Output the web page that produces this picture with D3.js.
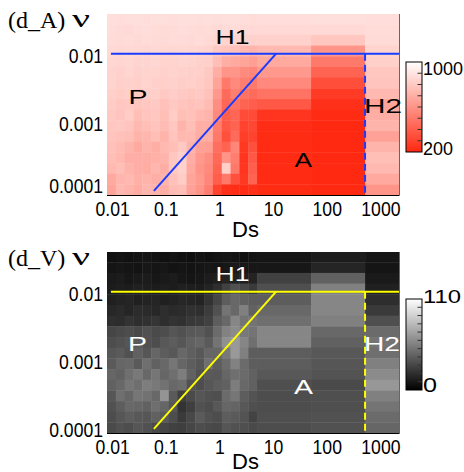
<!DOCTYPE html>
<html><head><meta charset="utf-8">
<script src="https://cdn.jsdelivr.net/npm/d3@7"></script>
<style>body{margin:0;background:#fff}</style>
</head><body><svg id="c" width="464" height="472"></svg>
<script>
// ---- data ----
const dsEdges = [0.00802, 0.01172, 0.0171, 0.0250, 0.0365, 0.0533, 0.0778, 0.1138, 0.166, 0.2427, 0.354, 0.5176, 0.755, 1.104, 1.611, 2.355, 3.436, 5.02, 51, 518, 2223];
const nuEdges = [8.44e-5, 1.21e-4, 1.73e-4, 2.48e-4, 3.56e-4, 5.1e-4, 7.32e-4, 1.05e-3, 1.507e-3, 2.16e-3, 3.1e-3, 4.45e-3, 6.38e-3, 9.16e-3, 1.314e-2, 1.885e-2, 2.7e-2, 3.82e-2];
const xTicks = [0.01, 0.1, 1, 10, 100, 1000];
const xTickLabels = ["0.01", "0.1", "1", "10", "100", "1000"];
const yTicks = [0.0001, 0.001, 0.01];
const yTickLabels = ["0.0001", "0.001", "0.01"];
const regionNames = ["H1", "P", "H2", "A"];
const cbTicksA = [200, 300, 400, 500, 600, 700, 800, 900, 1000];
const cbTicksV = [0, 10, 20, 30, 40, 50, 60, 70, 80, 90, 100, 110];
// rows listed from highest nu (top) to lowest nu (bottom), 20 Ds columns each
const dA = [
 [880,875,880,880,875,880,880,875,880,880,875,880,875,880,880,875,870,875,880,875],
 [875,865,860,870,875,870,865,870,875,870,865,870,860,865,870,860,860,860,860,870],
 [870,865,870,860,870,865,860,870,865,860,870,860,850,840,845,835,830,830,790,865],
 [860,855,860,855,850,860,855,850,855,850,845,840,800,780,770,740,720,740,600,840],
 [850,845,850,840,845,850,840,835,845,840,830,820,760,700,680,660,640,680,500,820],
 [840,830,845,830,840,835,830,840,830,825,820,800,700,600,600,570,550,620,420,790],
 [835,825,830,820,835,825,820,830,815,820,810,790,660,500,560,520,500,560,340,780],
 [820,810,825,800,815,820,800,815,800,790,800,770,620,450,520,470,450,480,270,740],
 [810,790,800,780,790,800,770,800,780,770,780,750,580,430,470,420,400,380,230,660],
 [800,780,810,760,780,790,760,810,760,770,740,720,560,400,430,330,330,250,210,700],
 [790,800,780,740,760,780,750,790,720,760,700,700,520,380,420,300,320,220,205,720],
 [780,770,760,720,730,760,720,780,740,740,690,690,500,350,450,280,300,215,205,650],
 [770,750,720,680,720,700,740,760,800,720,650,640,460,420,550,260,350,210,200,720],
 [760,740,700,700,700,710,720,790,820,700,620,580,440,600,520,250,380,210,200,760],
 [740,760,720,700,690,730,700,800,830,680,600,560,420,820,500,250,400,210,200,740],
 [680,730,740,710,720,700,720,770,810,660,620,550,400,500,350,260,420,210,200,680],
 [660,740,720,690,730,720,700,750,760,650,600,520,300,230,220,220,230,215,205,600]
];
const dV = [
 [7,8,7,8,9,8,7,8,7,6,8,7,8,9,8,7,8,9,12,9],
 [9,10,9,8,10,9,10,8,9,8,9,10,9,10,11,10,10,10,16,9],
 [11,12,10,11,12,10,11,12,10,9,10,12,13,15,14,13,15,28,42,11],
 [12,13,12,14,13,12,13,12,14,13,12,15,20,28,35,30,25,34,55,14],
 [14,15,16,14,15,16,14,15,17,16,15,22,30,40,45,42,40,40,58,20],
 [17,18,16,19,18,17,20,18,19,21,20,26,35,50,45,55,42,45,58,25],
 [20,19,22,20,21,23,20,22,21,24,25,28,40,45,58,50,50,48,55,34],
 [30,32,33,31,35,32,33,37,35,38,39,35,46,56,60,52,50,58,45,46],
 [33,35,37,39,35,33,38,40,37,42,44,39,50,62,66,58,48,58,42,50],
 [37,39,35,42,37,44,40,38,45,41,38,44,44,52,66,55,40,40,38,48],
 [39,44,45,39,48,42,45,51,44,40,37,48,40,46,56,46,40,40,37,55],
 [44,42,48,52,45,51,44,48,54,42,35,39,38,44,48,46,42,38,36,60],
 [42,45,51,48,54,52,49,45,47,35,33,37,40,42,54,45,42,34,32,65],
 [37,48,44,51,49,45,64,39,27,32,37,35,34,46,51,40,36,33,34,55],
 [35,40,45,44,42,48,44,37,22,27,35,33,38,44,43,38,34,33,34,50],
 [33,37,40,38,37,42,39,33,25,31,39,35,33,40,39,36,29,34,35,46],
 [32,35,33,37,35,32,30,28,27,30,33,32,31,37,35,34,32,33,35,44]
];
const lineH1 = [[0.0095, 0.01], [2223, 0.01]];
const lineDiag = [[0.060, 9.7e-5], [11.4, 0.01]];
const lineH2 = [[518, 0.01], [518, 8.44e-5]];

// ---- drawing ----
const svg = d3.select("#c");
svg.append("rect").attr("width", 464).attr("height", 472).attr("fill", "#fff");
const SANS = "'Liberation Sans', Arial, Helvetica, sans-serif";
const SERIF = "'Liberation Serif', 'Times New Roman', serif";
const PW = 181;
const x = d3.scaleLog().domain([dsEdges[0], dsEdges[dsEdges.length - 1]]).range([107, 399]);

function squeeze(sel, f) {
  sel.each(function () {
    const w = this.getComputedTextLength();
    d3.select(this).attr("textLength", w * f).attr("lengthAdjust", "spacingAndGlyphs");
  });
}

const panels = [
  { title: "(d_A)", data: dA, top: 14, titleBase: 28,
    color: d3.scaleLinear().domain([200, 1000]).range(["#ff2810", "#ffffff"]),
    lineColor: "#1a3cff", textColor: "#000", lowLabelShift: -6,
    cb: { y0: 62, y1: 152, domain: [200, 1000], ticks: cbTicksA,
          labels: [{t: "1000", y: 75, size: 18, len: 40}, {t: "200", y: 155, size: 18, len: 30}] },
    regions: [{x: 215.5, y: 44, len: 34}, {x: 128.5, y: 103.5, len: 19}, {x: 364, y: 113, len: 38}, {x: 294.5, y: 167, len: 17.5}],
    xlabBase: 215.5, dsBase: 236.5 },
  { title: "(d_V)", data: dV, top: 252, titleBase: 266,
    color: d3.scaleLinear().domain([0, 110]).range(["#000000", "#ffffff"]),
    lineColor: "#ffff00", textColor: "#fff", lowLabelShift: 0,
    cb: { y0: 299, y1: 390, domain: [0, 110], ticks: cbTicksV,
          labels: [{t: "110", y: 303, size: 19, len: 38}, {t: "0", y: 392, size: 20, len: 14}] },
    regions: [{x: 215.5, y: 280.5, len: 34}, {x: 128, y: 351, len: 19}, {x: 364, y: 351, len: 36}, {x: 294, y: 394, len: 19}],
    xlabBase: 453.5, dsBase: 468.5 }
];

panels.forEach(p => {
  const y = d3.scaleLog().domain([nuEdges[0], nuEdges[nuEdges.length - 1]]).range([p.top + PW, p.top]);
  const g = svg.append("g");
  const R = nuEdges.length - 1;
  const cells = [];
  p.data.forEach((row, i) => row.forEach((v, j) => cells.push({i, j, v})));
  g.selectAll("rect.cell").data(cells).join("rect")
    .attr("class", "cell")
    .attr("x", d => x(dsEdges[d.j]))
    .attr("width", d => x(dsEdges[d.j + 1]) - x(dsEdges[d.j]) + 0.4)
    .attr("y", d => y(nuEdges[R - d.i]))
    .attr("height", d => y(nuEdges[R - 1 - d.i]) - y(nuEdges[R - d.i]) + 0.4)
    .attr("fill", d => p.color(d.v));

  // frame: bottom axis line and right edge
  g.append("line").attr("x1", 107).attr("x2", 399.5).attr("y1", p.top + PW + 0.5).attr("y2", p.top + PW + 0.5)
    .attr("stroke", "#000").attr("stroke-width", 1);
  g.append("line").attr("x1", 399.5).attr("x2", 399.5).attr("y1", p.top).attr("y2", p.top + PW)
    .attr("stroke", "#666").attr("stroke-width", 1);

  // boundary lines
  const ln = d3.line().x(d => x(d[0])).y(d => y(d[1]));
  g.append("path").attr("d", ln(lineH1)).attr("stroke", p.lineColor).attr("stroke-width", 2).attr("fill", "none");
  g.append("path").attr("d", ln(lineDiag)).attr("stroke", p.lineColor).attr("stroke-width", 2).attr("fill", "none");
  g.append("path").attr("d", ln(lineH2)).attr("stroke", p.lineColor).attr("stroke-width", 2)
    .attr("stroke-dasharray", "7,4").attr("fill", "none");

  // region labels
  regionNames.forEach((name, k) => {
    const r = p.regions[k];
    g.append("text").attr("x", r.x).attr("y", r.y).text(name)
      .attr("font-family", SANS).attr("font-size", 21).attr("fill", p.textColor)
      .attr("textLength", r.len).attr("lengthAdjust", "spacingAndGlyphs");
  });

  // x axis
  const xa = g.append("g").attr("transform", `translate(0,${p.top + PW})`)
    .call(d3.axisBottom(x).tickValues(xTicks).tickFormat((d, k) => xTickLabels[k]).tickSize(0).tickPadding(0));
  xa.select(".domain").remove();
  xa.selectAll("text").attr("font-family", SANS).attr("font-size", 20).attr("fill", "#000")
    .attr("dy", null).attr("y", p.xlabBase - (p.top + PW));
  squeeze(xa.selectAll("text"), 0.88);

  // y axis
  const ya = g.append("g").attr("transform", "translate(103,0)")
    .call(d3.axisLeft(y).tickValues(yTicks).tickFormat((d, k) => yTickLabels[k]).tickSize(0).tickPadding(0));
  ya.select(".domain").remove();
  ya.selectAll("text").attr("font-family", SANS).attr("font-size", 20).attr("fill", "#000")
    .attr("x", 0).attr("dy", "0.42em")
    .attr("y", (d, k) => k === 0 ? p.lowLabelShift : 0);
  squeeze(ya.selectAll("text"), 0.88);

  // titles
  g.append("text").attr("x", 8).attr("y", p.titleBase).text(p.title)
    .attr("font-family", SERIF).attr("font-size", 24).attr("fill", "#000");
  g.append("text").attr("x", 72).attr("y", p.titleBase - 1).text("ν")
    .attr("font-family", SERIF).attr("font-size", 26).attr("fill", "#000")
    .attr("textLength", 18).attr("lengthAdjust", "spacingAndGlyphs");
  g.append("text").attr("x", 232).attr("y", p.dsBase).text("Ds")
    .attr("font-family", SANS).attr("font-size", 22).attr("fill", "#000");

  // colorbar
  const cb = p.cb;
  const gid = "grad" + p.top;
  const grad = svg.append("defs").append("linearGradient").attr("id", gid)
    .attr("x1", 0).attr("x2", 0).attr("y1", 1).attr("y2", 0);
  d3.range(0, 1.0001, 0.1).forEach(t => {
    grad.append("stop").attr("offset", t)
      .attr("stop-color", p.color(cb.domain[0] + t * (cb.domain[1] - cb.domain[0])));
  });
  const cy = d3.scaleLinear().domain(cb.domain).range([cb.y1, cb.y0]);
  g.append("rect").attr("x", 406).attr("y", cb.y0).attr("width", 16).attr("height", cb.y1 - cb.y0)
    .attr("fill", `url(#${gid})`).attr("stroke", "#000").attr("stroke-width", 1);
  g.selectAll("line.cbt").data(cb.ticks.slice(1, -1)).join("line").attr("class", "cbt")
    .attr("x1", 417.5).attr("x2", 422).attr("y1", d => cy(d)).attr("y2", d => cy(d))
    .attr("stroke", "#333").attr("stroke-width", 1);
  cb.labels.forEach(l => {
    g.append("text").attr("x", 423).attr("y", l.y).text(l.t)
      .attr("font-family", SANS).attr("font-size", l.size).attr("fill", "#000")
      .attr("textLength", l.len).attr("lengthAdjust", "spacingAndGlyphs");
  });
});
</script></body></html>
